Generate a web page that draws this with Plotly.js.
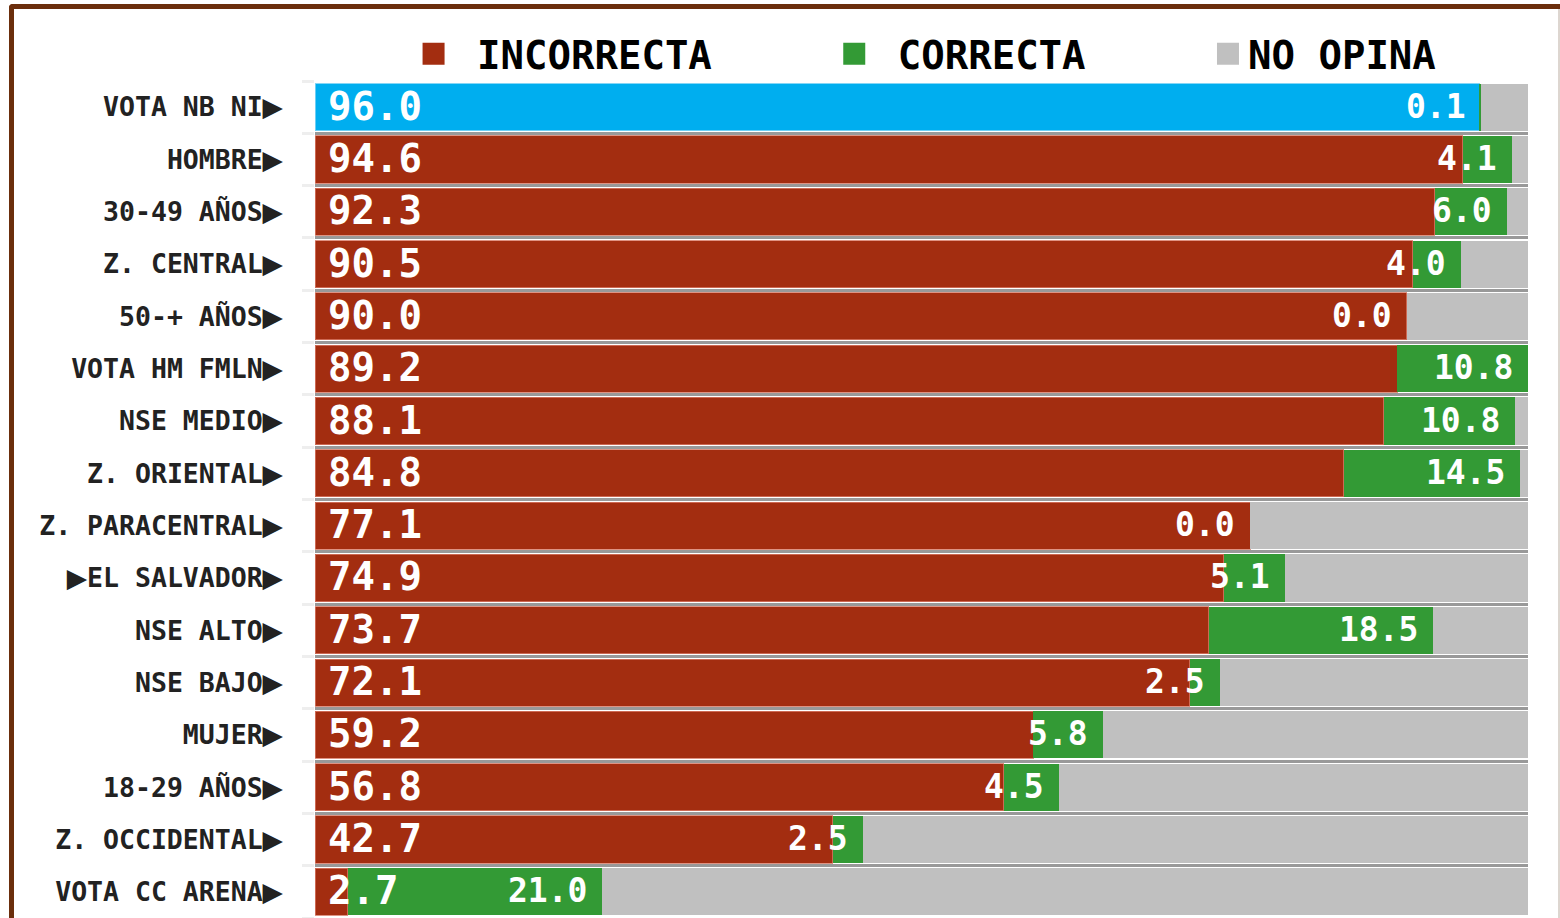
<!DOCTYPE html>
<html>
<head>
<meta charset="utf-8">
<script src="https://cdn.plot.ly/plotly-3.0.1.min.js"></script>
<style>
  html, body { margin: 0; padding: 0; background: #fff; overflow: hidden; }
  #wrap { position: relative; width: 1560px; height: 918px; }
  #chart { position: absolute; left: 0; top: 0; width: 1560px; height: 918px; }
  #frame { position: absolute; left: 9px; top: 4px; width: 1700px; height: 1200px;
           border-left: 5px solid #6B2E0C; border-top: 5px solid #6B2E0C;
           border-top-left-radius: 4px; pointer-events: none; }
  #rline { position: absolute; left: 1558px; top: 9px; width: 2px; height: 909px;
           background: #ddd6d0; pointer-events: none; }
</style>
</head>
<body>
<div id="wrap">
  <div id="chart"></div>
  <div id="frame"></div>
  <div id="rline"></div>
</div>
<script>
const categories = [
  "VOTA NB NI▶", "HOMBRE▶", "30-49 AÑOS▶", "Z. CENTRAL▶", "50-+ AÑOS▶",
  "VOTA HM FMLN▶", "NSE MEDIO▶", "Z. ORIENTAL▶", "Z. PARACENTRAL▶", "▶EL SALVADOR▶",
  "NSE ALTO▶", "NSE BAJO▶", "MUJER▶", "18-29 AÑOS▶", "Z. OCCIDENTAL▶", "VOTA CC ARENA▶"
];
const incorrecta = [96.0, 94.6, 92.3, 90.5, 90.0, 89.2, 88.1, 84.8, 77.1, 74.9, 73.7, 72.1, 59.2, 56.8, 42.7, 2.7];
const correcta   = [0.1, 4.1, 6.0, 4.0, 0.0, 10.8, 10.8, 14.5, 0.0, 5.1, 18.5, 2.5, 5.8, 4.5, 2.5, 21.0];
const noOpina    = [3.9, 1.3, 1.7, 5.5, 10.0, 0.0, 1.1, 0.7, 22.9, 20.0, 7.8, 25.4, 35.0, 38.7, 54.8, 76.3];
const seriesNames = ["\u00a0INCORRECTA\u00a0\u00a0\u00a0\u00a0\u00a0", "\u00a0CORRECTA\u00a0\u00a0\u00a0\u00a0\u00a0", "NO OPINA"];

const RED = "#A32D10", GREEN = "#339A35", GREY = "#C0C0C0", BLUE = "#00AEEF";
const FONT = "DejaVu Sans Mono";

const tickText = categories.map(c => c.split("▶").join('<span style="font-family:DejaVu Sans">▶</span>'));

const incColors = categories.map((c, i) => i === 0 ? BLUE : RED);
const incLine = categories.map((c, i) => i === 0 ? "rgba(120,210,245,0.9)" : "rgba(215,120,100,0.8)");

const traces = [
  { type: "bar", orientation: "h", name: seriesNames[0], y: categories, x: incorrecta,
    marker: { color: incColors, line: { color: incLine, width: 1 } }, hoverinfo: "skip" },
  { type: "bar", orientation: "h", name: seriesNames[1], y: categories, x: correcta,
    marker: { color: GREEN, line: { width: 0 } }, hoverinfo: "skip" },
  { type: "bar", orientation: "h", name: seriesNames[2], y: categories, x: noOpina,
    marker: { color: GREY, line: { width: 0 } }, hoverinfo: "skip" }
];

const annotations = [];
categories.forEach((c, i) => {
  annotations.push({
    x: 0, y: c, xref: "x", yref: "y", xanchor: "left", yanchor: "middle",
    xshift: 11, yshift: 1, showarrow: false, text: incorrecta[i].toFixed(1),
    font: { family: FONT, size: 39, color: "#ffffff", weight: "bold" }
  });
  annotations.push({
    x: incorrecta[i] + correcta[i], y: c, xref: "x", yref: "y", xanchor: "right", yanchor: "middle",
    xshift: -13, yshift: 1, showarrow: false, text: correcta[i].toFixed(1),
    font: { family: FONT, size: 33, color: "#ffffff", weight: "bold" }
  });
});

const layout = {
  width: 1560, height: 918,
  paper_bgcolor: "rgba(0,0,0,0)", plot_bgcolor: "#ffffff",
  margin: { l: 315, r: 32, t: 81, b: 0, pad: 0, autoexpand: false },
  barmode: "stack", bargap: 0.1,
  showlegend: true,
  legend: {
    orientation: "h", x: 0.505, xanchor: "center", xref: "paper",
    y: 1 - 54 / 918, yref: "container", yanchor: "middle",
    font: { family: FONT, size: 39, color: "#000000", weight: "bold" },
    traceorder: "normal", bgcolor: "rgba(0,0,0,0)", itemclick: false
  },
  xaxis: { range: [0, 100], showgrid: false, zeroline: false, showticklabels: false, showline: false, fixedrange: true },
  yaxis: {
    type: "category", autorange: "reversed", tickson: "boundaries",
    tickmode: "array", tickvals: categories, ticktext: tickText,
    showgrid: true, gridcolor: "#999999", gridwidth: 3,
    ticks: "outside", ticklen: 12, tickwidth: 3, tickcolor: "#eeeeee",
    ticklabelstandoff: 31, zeroline: false, showline: false, fixedrange: true,
    tickfont: { family: FONT, size: 26.5, color: "#222222", weight: "bold" }
  },
  annotations: annotations,
  font: { family: FONT }
};

Plotly.newPlot("chart", traces, layout, { displayModeBar: false, staticPlot: true }).then(() => {
  const legendColors = [RED, GREEN, GREY];
  document.querySelectorAll("#chart .legend .traces").forEach((t, i) => {
    const p = t.querySelector(".legendpoints path");
    if (p) {
      p.setAttribute("d", "M11,11H-11V-11H11Z");
      p.style.fill = legendColors[i];
      p.style.stroke = "none";
    }
  });
});
</script>
</body>
</html>
